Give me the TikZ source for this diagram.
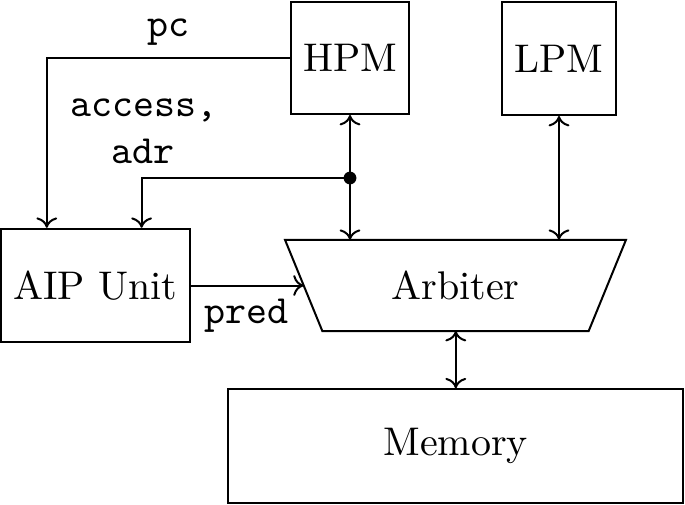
\documentclass[tikz,border=0pt]{standalone}
\usetikzlibrary{arrows.meta}
\begin{document}
\begin{tikzpicture}[x=0.25pt,y=-0.25pt, line width=0.5pt,
  box/.style={draw, rectangle, inner sep=0pt},
  lbl/.style={font=\ttfamily, inner sep=0pt},
  >={To[length=2.6pt,width=5.2pt]}]
\useasboundingbox (0,0) rectangle (685,504);
\node[box, minimum width=29.65pt, minimum height=28pt] (hpm) at (350,58) {HPM};
\node[box, minimum width=28.4pt, minimum height=28.25pt] (lpm) at (559,58.5) {LPM};
\node[box, minimum width=47.25pt, minimum height=28.35pt] (aip) at (95.5,285.5) {AIP Unit};
\node[inner sep=0pt, minimum width=84.75pt, minimum height=22.3pt] (arb) at (455.5,285.4) {Arbiter};
\draw (arb.north west) -- (arb.north east) -- ([xshift=-9.33pt]arb.south east) -- ([xshift=9.33pt]arb.south west) -- cycle;
\coordinate (arbl) at ([xshift=4.66pt]arb.west);
\node[box, minimum width=113.75pt, minimum height=28.35pt] (mem) at (455.8,446) {Memory};
\coordinate (j) at (350,178);
\draw[->] (hpm.west) -| ([xshift=11.7pt]aip.north west);
\draw[->] (j) -| ([xshift=35.4pt]aip.north west);
\draw[<->] (hpm.south) -- (hpm.south |- arb.north);
\fill (j) circle[radius=1.6pt];
\draw[<->] (lpm.south) -- (lpm.south |- arb.north);
\draw[<->] (arb.south -| mem.north) -- (mem.north);
\draw[->] (aip.east) -- (aip.east -| arbl);
\node[lbl, anchor=base] (pcl) at (168,36) {pc};
\node[lbl, anchor=base] (accl) at (144,116) {access,};
\node[lbl, anchor=base] (adrl) at (143,163) {adr};
\node[lbl, anchor=base] (predl) at (246.5,323) {pred};
\end{tikzpicture}
\end{document}
